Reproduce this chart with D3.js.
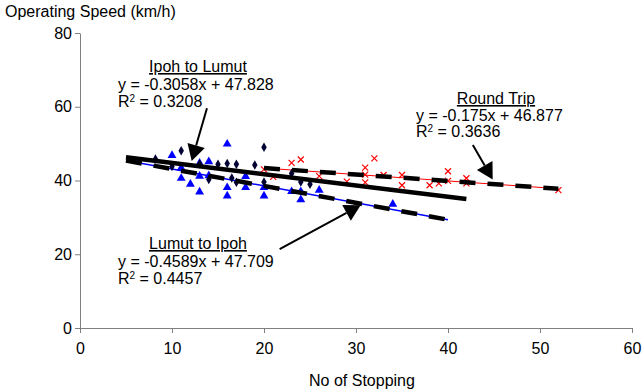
<!DOCTYPE html>
<html>
<head>
<meta charset="utf-8">
<script src="https://cdn.jsdelivr.net/npm/d3@7"></script>
<style>
  body { margin: 0; background: #fff; }
  text { font-family: "Liberation Sans", Arial, sans-serif; fill: #000; }
</style>
</head>
<body>
<script>
// Ipoh to Lumut (diamonds)
var ipohLumut = [
    [8.2, 45.8], [10, 43.8], [11, 48.1], [13, 44.5], [14, 40.3], [15, 44.4],
    [16, 44.6], [16.5, 40.7], [17, 44.4], [17, 39.5], [19, 44.2], [20, 49],
    [20, 39.6], [23, 41.9], [24, 39.6], [25, 39]
];
// Lumut to Ipoh (triangles)
var lumutIpoh = [
    [10, 46.8], [11, 43.4], [11, 40.6], [12, 39.0], [13, 44.7], [13, 41.2],
    [13, 36.9], [14, 45.1], [14, 41.3], [16, 49.9], [16, 38.1], [16, 35.8],
    [18, 41.1], [18, 38.1], [20, 38.1], [20, 35.8], [23, 37], [24, 37],
    [24, 34.8], [26, 37.4], [34, 33.6]
];
// Round trip (crosses)
var roundTrip = [
    [20, 43], [21, 41], [23, 44.8], [24, 45.7], [26, 41.2], [29, 39.7],
    [31, 43.5], [31, 41.6], [31, 39.5], [32, 46], [33, 41.5], [35, 41.5],
    [35, 38.7], [38, 38.7], [39, 39.2], [40, 42.5], [40, 39.9], [42, 40.6],
    [42, 39.2], [52, 37.4]
];

// trendlines: slope, intercept, x range
var trendIpohLumut = [-0.3058, 47.828, 5, 42];
var trendLumutIpoh = [-0.4589, 47.709, 5, 40];
var trendRound = [-0.175, 46.877, 20, 52];

var xTicks = [0, 10, 20, 30, 40, 50, 60];
var yTicks = [0, 20, 40, 60, 80];

var width = 644, height = 392;
var margin = {left: 80, right: 12, top: 33, bottom: 64};

var svg = d3.select("body").append("svg")
    .attr("width", width)
    .attr("height", height);

var xScale = d3.scaleLinear().domain([0, 60]).range([margin.left, width - margin.right]);
var yScale = d3.scaleLinear().domain([0, 80]).range([height - margin.bottom, margin.top]);

// axes
var xAxis = svg.append("g")
    .attr("transform", "translate(0," + yScale(0) + ")")
    .call(d3.axisBottom(xScale).tickValues(xTicks).tickSize(5).tickPadding(10).tickSizeOuter(0));
var yAxis = svg.append("g")
    .attr("transform", "translate(" + xScale(0) + ",0)")
    .call(d3.axisLeft(yScale).tickValues(yTicks).tickSize(5).tickPadding(3).tickSizeOuter(0));
[xAxis, yAxis].forEach(function(a){
    a.select(".domain").attr("stroke", "#808080");
    a.selectAll(".tick line").attr("stroke", "#808080");
    a.selectAll("text").style("font-size", "16px").attr("fill", "#000")
        .style("font-family", "'Liberation Sans', Arial, sans-serif");
});

function trendPts(t) {
    return [[t[2], t[0] * t[2] + t[1]], [t[3], t[0] * t[3] + t[1]]];
}
var line = d3.line()
    .x(function(d){ return xScale(d[0]); })
    .y(function(d){ return yScale(d[1]); });

// thin coloured trendlines underneath
svg.append("path").attr("d", line(trendPts(trendRound)))
    .attr("stroke", "#ff0000").attr("stroke-width", 1).attr("fill", "none");
svg.append("path").attr("d", line(trendPts(trendLumutIpoh)))
    .attr("stroke", "#0000ff").attr("stroke-width", 1.5).attr("fill", "none");

// markers
var tri = d3.symbol().type(d3.symbolTriangle).size(34);
svg.append("g").selectAll("path")
    .data(lumutIpoh).enter().append("path")
    .attr("d", tri)
    .attr("transform", function(d){ return "translate(" + xScale(d[0]) + "," + yScale(d[1]) + ")"; })
    .attr("fill", "#0000ff");

var dia = d3.symbol().type(d3.symbolDiamond).size(26);
svg.append("g").selectAll("path")
    .data(ipohLumut).enter().append("path")
    .attr("d", dia)
    .attr("transform", function(d){ return "translate(" + xScale(d[0]) + "," + yScale(d[1]) + ")"; })
    .attr("fill", "#000033");

svg.append("g").selectAll("path")
    .data(roundTrip).enter().append("path")
    .attr("d", "M-3,-3L3,3M-3,3L3,-3")
    .attr("transform", function(d){ return "translate(" + xScale(d[0]) + "," + yScale(d[1]) + ")"; })
    .attr("stroke", "#ff0000").attr("stroke-width", 1.2).attr("fill", "none");

// thick black trendlines
svg.append("path").attr("d", line(trendPts(trendIpohLumut)))
    .attr("stroke", "#000").attr("stroke-width", 4.5).attr("fill", "none");
svg.append("path").attr("d", line(trendPts(trendLumutIpoh)))
    .attr("stroke", "#000").attr("stroke-width", 4.5).attr("fill", "none")
    .attr("stroke-dasharray", "16,12");
svg.append("path").attr("d", line(trendPts(trendRound)))
    .attr("stroke", "#000").attr("stroke-width", 4.5).attr("fill", "none")
    .attr("stroke-dasharray", "16,12");

// arrows (data coords: start, tip)
var arrows = [
    [[13.8, 59.6], [12.14, 45.3]],
    [[42.7, 49.6], [44.86, 40.3]],
    [[21.7, 21.4], [30.5, 33.3]]
];
arrows.forEach(function(a){
    var x1 = xScale(a[0][0]), y1 = yScale(a[0][1]);
    var x2 = xScale(a[1][0]), y2 = yScale(a[1][1]);
    var dx = x2 - x1, dy = y2 - y1, len = Math.sqrt(dx * dx + dy * dy);
    var ux = dx / len, uy = dy / len;
    var bx = x2 - ux * 16, by = y2 - uy * 16;
    svg.append("line").attr("x1", x1).attr("y1", y1).attr("x2", bx).attr("y2", by)
        .attr("stroke", "#000").attr("stroke-width", 2);
    svg.append("path")
        .attr("d", "M" + x2 + "," + y2 + "L" + (bx - uy * 9) + "," + (by + ux * 9) +
            "L" + (bx + uy * 9) + "," + (by - ux * 9) + "Z")
        .attr("fill", "#000");
});

// labels
function label(x, y, txt, anchor, size) {
    return svg.append("text").attr("x", x).attr("y", y)
        .attr("text-anchor", anchor || "start")
        .style("font-size", (size || 16) + "px").text(txt);
}
function r2(x, y, val) {
    var t = svg.append("text").attr("x", x).attr("y", y).style("font-size", "16px");
    t.append("tspan").text("R");
    t.append("tspan").attr("dy", -5).style("font-size", "10px").text("2");
    t.append("tspan").attr("dy", 5).text(" = " + val);
}

label(5, 17, "Operating Speed (km/h)");
label(362, 386, "No of Stopping", "middle");

label(198, 72, "Ipoh to Lumut", "middle").style("text-decoration", "underline");
label(118, 90, "y = -0.3058x + 47.828");
r2(118, 107, "0.3208");

label(496, 104, "Round Trip", "middle").style("text-decoration", "underline");
label(416, 121, "y = -0.175x + 46.877");
r2(416, 137, "0.3636");

label(198, 249, "Lumut to Ipoh", "middle").style("text-decoration", "underline");
label(118, 267, "y = -0.4589x + 47.709");
r2(118, 284, "0.4457");
</script>
</body>
</html>
